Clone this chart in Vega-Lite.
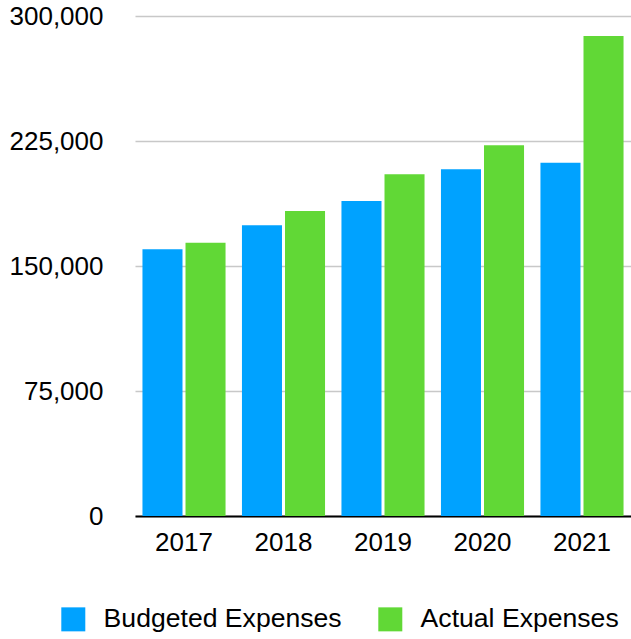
{
  "$schema": "https://vega.github.io/schema/vega-lite/v6.json",
  "width": 496,
  "height": 500,
  "autosize": {"type": "none"},
  "padding": {"left": 135, "top": 16, "right": 0, "bottom": 123},
  "background": "white",
  "data": {
    "values": [
      {"year": "2017", "type": "Budgeted Expenses", "value": 160000},
      {"year": "2017", "type": "Actual Expenses", "value": 164000},
      {"year": "2018", "type": "Budgeted Expenses", "value": 174500},
      {"year": "2018", "type": "Actual Expenses", "value": 183000},
      {"year": "2019", "type": "Budgeted Expenses", "value": 189000},
      {"year": "2019", "type": "Actual Expenses", "value": 205000},
      {"year": "2020", "type": "Budgeted Expenses", "value": 208000},
      {"year": "2020", "type": "Actual Expenses", "value": 222500},
      {"year": "2021", "type": "Budgeted Expenses", "value": 212000},
      {"year": "2021", "type": "Actual Expenses", "value": 288000}
    ]
  },
  "mark": {"type": "bar"},
  "encoding": {
    "x": {
      "field": "year",
      "type": "nominal",
      "scale": {"paddingInner": 0.165, "paddingOuter": 0.075},
      "axis": {
        "title": null,
        "labelAngle": 0,
        "labelFont": "Liberation Sans",
        "labelFontSize": 26,
        "labelColor": "#000000",
        "labelPadding": 13,
        "ticks": false,
        "domainColor": "#000000",
        "domainWidth": 2,
        "grid": false
      }
    },
    "xOffset": {
      "field": "type",
      "type": "nominal",
      "sort": ["Budgeted Expenses", "Actual Expenses"],
      "scale": {"paddingInner": 0.07, "paddingOuter": 0}
    },
    "y": {
      "field": "value",
      "type": "quantitative",
      "scale": {"domain": [0, 300000], "nice": false},
      "axis": {
        "title": null,
        "values": [0, 75000, 150000, 225000, 300000],
        "format": ",d",
        "labelFont": "Liberation Sans",
        "labelFontSize": 26,
        "labelColor": "#000000",
        "labelPadding": 32,
        "ticks": false,
        "domain": false,
        "grid": true,
        "gridColor": "#c8c8c8",
        "gridWidth": 1.3
      }
    },
    "color": {
      "field": "type",
      "type": "nominal",
      "sort": ["Budgeted Expenses", "Actual Expenses"],
      "scale": {
        "domain": ["Budgeted Expenses", "Actual Expenses"],
        "range": ["#00A2FF", "#61D836"]
      },
      "legend": {
        "title": null,
        "orient": "none",
        "direction": "horizontal",
        "legendX": -75,
        "legendY": 590,
        "symbolType": "square",
        "symbolSize": 576,
        "symbolStrokeWidth": 0,
        "symbolOpacity": 1,
        "labelFont": "Liberation Sans",
        "labelFontSize": 26.6,
        "labelColor": "#000000",
        "labelOffset": 17,
        "columnPadding": 35,
        "labelLimit": 400
      }
    }
  },
  "config": {
    "view": {"stroke": null},
    "axis": {"labelFont": "Liberation Sans"}
  }
}
